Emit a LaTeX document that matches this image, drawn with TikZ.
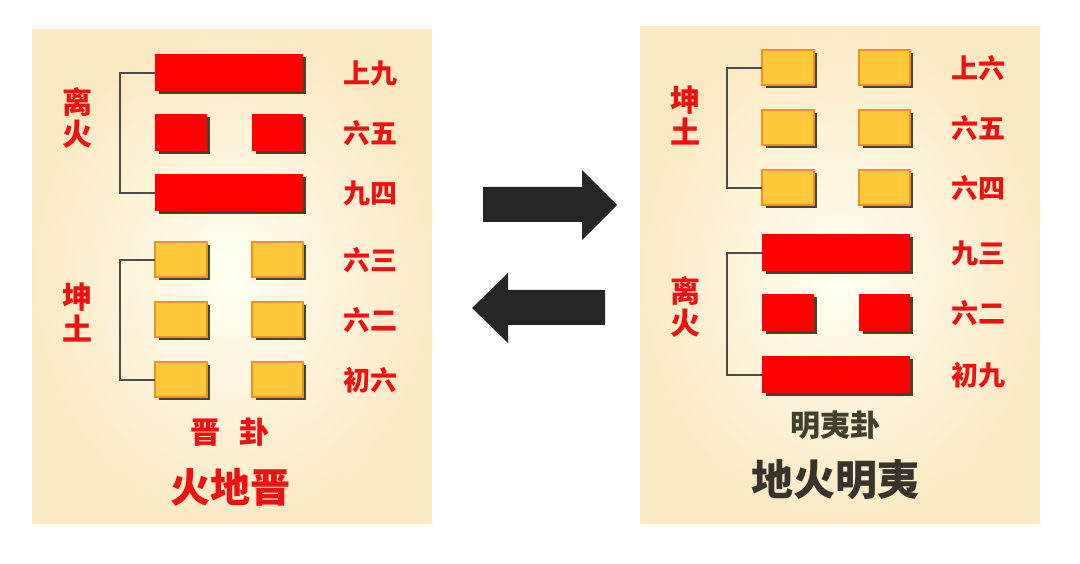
\documentclass[tikz,border=0pt]{standalone}
\usepackage{fontspec}
\newfontfamily\cjk{Noto Sans CJK SC}
\definecolor{yel}{HTML}{FDC93A}
\definecolor{org}{HTML}{F5901E}
\definecolor{txr}{HTML}{EE1111}
\definecolor{edge}{HTML}{FBE9C4}
\begin{document}
\begin{tikzpicture}[x=1pt,y=-1pt,
 yang/.style={fill=red,draw=none},
 shadow/.style={fill=black!65!olive,draw=none},
 yin/.style={fill=yel,draw=org,line width=1.5pt},
 lab/.style={font=\cjk\bfseries\fontsize{27}{27}\selectfont,text=txr,inner sep=0},
 side/.style={font=\cjk\bfseries\fontsize{30}{32}\selectfont,text=txr,align=center,inner sep=0},
 brk/.style={draw=black!70,line width=1.5pt},
 arr/.style={fill=black!85}]
\useasboundingbox (0,0) rectangle (1080,564);
\fill[white] (0,0) rectangle (1080,564);
\shade[inner color=white!95!yellow,outer color=edge] (32,30) rectangle (432,523);
\shade[inner color=white!95!yellow,outer color=edge] (640,27) rectangle (1040,523);
\newcommand{\fullbar}[2]{\fill[shadow] (#1+4,#2-16) rectangle (#1+151,#2+21);\fill[yang] (#1,#2-19) rectangle (#1+148,#2+18);}
\newcommand{\brokenred}[2]{\fill[shadow] (#1+4,#2-16) rectangle (#1+55,#2+21);\fill[shadow] (#1+101,#2-16) rectangle (#1+151,#2+21);\fill[yang] (#1,#2-19) rectangle (#1+52,#2+18);\fill[yang] (#1+97,#2-19) rectangle (#1+148,#2+18);}
\newcommand{\brokenyel}[2]{\fill[shadow] (#1+4,#2-15) rectangle (#1+55,#2+20);\fill[shadow] (#1+101,#2-15) rectangle (#1+151,#2+20);\filldraw[yin] (#1,#2-18) rectangle (#1+52,#2+17);\filldraw[yin] (#1+97,#2-18) rectangle (#1+148,#2+17);}
\fullbar{155}{73}
\brokenred{155}{133}
\fullbar{155}{193}
\brokenyel{155}{260}
\brokenyel{155}{320}
\brokenyel{155}{380}
\node[lab] (l6) at (370,73) {上九};
\node[lab] (l5) at (370,133) {六五};
\node[lab] (l4) at (370,193) {九四};
\node[lab] (l3) at (370,260) {六三};
\node[lab] (l2) at (370,320) {六二};
\node[lab] (l1) at (370,380) {初六};
\coordinate (la) at (155,73); \coordinate (lb) at (155,193);
\coordinate (lc) at (155,260); \coordinate (ld) at (155,380);
\draw[brk] (la) -- (120,73) -- (120,193) -- (lb);
\draw[brk] (lc) -- (120,260) -- (120,380) -- (ld);
\node[side] (lu) at (77,118) {离\\火};
\node[side] (ll) at (77,312) {坤\\土};
\node[font=\cjk\bfseries\fontsize{30}{30}\selectfont,text=txr] (lt1) at (230,432) {晋\hspace{20pt}卦};
\node[font=\cjk\bfseries\fontsize{40}{40}\selectfont,text=txr] (lt2) at (230,487) {火地晋};
\brokenyel{762}{68}
\brokenyel{762}{128}
\brokenyel{762}{188}
\fullbar{762}{253}
\brokenred{762}{313}
\fullbar{762}{375}
\node[lab] (r6) at (978,68) {上六};
\node[lab] (r5) at (978,128) {六五};
\node[lab] (r4) at (978,188) {六四};
\node[lab] (r3) at (978,253) {九三};
\node[lab] (r2) at (978,313) {六二};
\node[lab] (r1) at (978,375) {初九};
\coordinate (ra) at (762,68); \coordinate (rb) at (762,188);
\coordinate (rc) at (762,253); \coordinate (rd) at (762,375);
\draw[brk] (ra) -- (727,68) -- (727,188) -- (rb);
\draw[brk] (rc) -- (727,253) -- (727,375) -- (rd);
\node[side] (ru) at (685,115) {坤\\土};
\node[side] (rl) at (685,307) {离\\火};
\node[font=\cjk\bfseries\fontsize{30}{30}\selectfont,text=black!70!olive] (rt1) at (835,425) {明夷卦};
\node[font=\cjk\bfseries\fontsize{42}{42}\selectfont,text=black!80!olive] (rt2) at (835,480) {地火明夷};
\fill[arr] (483,187) -- (582,187) -- (582,170) -- (617,205) -- (582,240) -- (582,222) -- (483,222) -- cycle;
\fill[arr] (605,290) -- (508,290) -- (508,273) -- (472,308) -- (508,343) -- (508,325) -- (605,325) -- cycle;
\end{tikzpicture}
\end{document}
